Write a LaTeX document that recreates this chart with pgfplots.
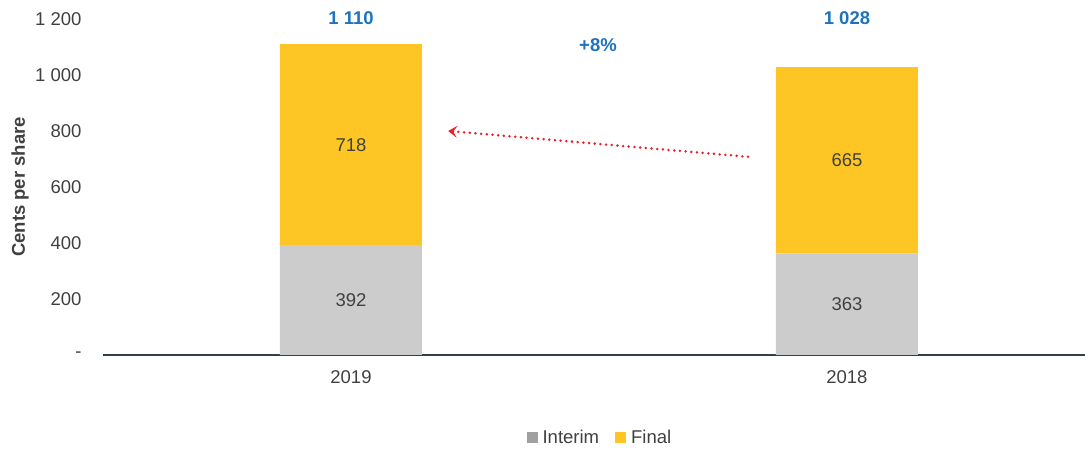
\documentclass[border=0pt]{standalone}
\usepackage{pgfplots}
\pgfplotsset{compat=1.18}
\usetikzlibrary{arrows.meta}
\usepackage{fontspec}
\setmainfont{Liberation Sans}
\definecolor{interim}{HTML}{CCCCCC}
\definecolor{interimleg}{HTML}{A0A0A0}
\definecolor{final}{HTML}{FDC624}
\definecolor{lblue}{HTML}{1F72BD}
\definecolor{arrowred}{HTML}{E8202A}
\definecolor{txt}{HTML}{404040}
\definecolor{axisc}{HTML}{333F48}
\begin{document}
\begin{tikzpicture}
\begin{axis}[
  scale only axis, width=982pt, height=336pt,
  ybar stacked, bar width=142pt,
  xmin=-0.5, xmax=1.48, ymin=0, ymax=1200,
  xtick={0,1}, xticklabels={2019,2018},
  ytick={0,200,400,600,800,1000,1200},
  yticklabels={-,200,400,600,800,1 000,1 200},
  axis x line=bottom, axis y line=left,
  y axis line style={draw=none},
  x axis line style={draw=axisc, line width=1.5pt, -},
  tick style={draw=none}, major tick length=0pt,
  clip=false,
  font=\fontsize{18.5}{22}\selectfont,
  ticklabel style={text=txt, font=\fontsize{18.5}{22}\selectfont},
  yticklabel style={xshift=-18pt},
  xticklabel style={yshift=-12pt},
  ylabel={\textbf{Cents per share}},
  every axis y label/.style={at={(rel axis cs:-0.0845,0.5)}, rotate=90, anchor=center, text=txt, font=\fontsize{18.5}{22}\selectfont},
  legend style={at={(rel axis cs:0.506,-0.247)}, anchor=center, draw=none, fill=none,
    legend columns=2, font=\fontsize{18.5}{22}\selectfont, text=txt,
    /tikz/every even column/.append style={column sep=14pt},
    /tikz/every odd column/.append style={column sep=3pt}},
]
\addplot[fill=interim, draw=none, legend image code/.code={\fill[interimleg] (0pt,-5.5pt) rectangle (11pt,5.5pt);}] coordinates {(0,392) (1,363)};
\addlegendentry{Interim}
\addplot[fill=final, draw=none, legend image code/.code={\fill[final] (0pt,-5.5pt) rectangle (11pt,5.5pt);}] coordinates {(0,718) (1,665)};
\addlegendentry{Final}

\coordinate (l1) at (axis cs:0,196);
\coordinate (l2) at (axis cs:1,181.5);
\coordinate (l3) at (axis cs:0,751);
\coordinate (l4) at (axis cs:1,695.5);
\coordinate (t1) at (axis cs:0,1203);
\coordinate (t2) at (axis cs:1,1203);
\coordinate (t3) at (axis cs:0.498,1107);
\coordinate (a1) at (axis cs:0.196,800);
\coordinate (a2) at (axis cs:0.806,707);
\coordinate (bbA) at (rel axis cs:-0.1049,-0.2887);
\coordinate (bbB) at (rel axis cs:1,1.0565);
\end{axis}
\begin{scope}[font=\fontsize{18.5}{22}\selectfont]
\node[text=txt] at (l1) {392};
\node[text=txt] at (l2) {363};
\node[text=txt] at (l3) {718};
\node[text=txt] at (l4) {665};
\node[text=lblue, font=\fontsize{18.5}{22}\selectfont\bfseries] at (t1) {1 110};
\node[text=lblue, font=\fontsize{18.5}{22}\selectfont\bfseries] at (t2) {1 028};
\node[text=lblue, font=\fontsize{18.5}{22}\selectfont\bfseries] at (t3) {+8\%};
\draw[arrowred, line width=2.8pt, line cap=round, dash pattern=on 0pt off 5.7pt,
  {Stealth[length=9pt,width=12pt,inset=4pt]}-] (a1) -- (a2);
\end{scope}
\pgfresetboundingbox
\path[use as bounding box] (bbA) rectangle (bbB);
\end{tikzpicture}
\end{document}
